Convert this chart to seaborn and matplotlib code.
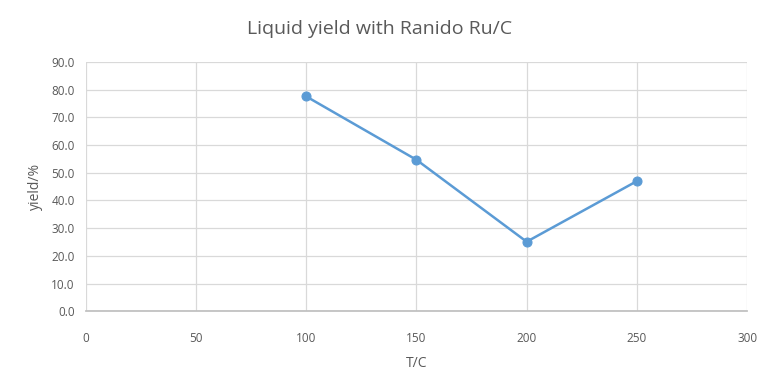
import matplotlib
matplotlib.use("Agg")
import matplotlib.pyplot as plt
import pandas as pd
import seaborn as sns
from matplotlib.ticker import FormatStrFormatter, MultipleLocator

temperature = [100, 150, 200, 250]
yield_pct = [77.6, 54.7, 25.1, 47.0]

sns.set_theme(style="whitegrid")
plt.rcParams["font.family"] = ["Open Sans", "DejaVu Sans"]

df = pd.DataFrame({"T": temperature, "yield": yield_pct})

fig, ax = plt.subplots(figsize=(7.6, 3.7), dpi=100)
fig.subplots_adjust(left=0.113, right=0.983, top=0.832, bottom=0.159)

sns.lineplot(df, x="T", y="yield", marker="o", color="#5B9BD5", linewidth=1.8,
             markersize=6.5, markeredgecolor="#5B9BD5", ax=ax)

ax.set_xlim(0, 300)
ax.set_ylim(0, 90)
ax.xaxis.set_major_locator(MultipleLocator(50))
ax.yaxis.set_major_locator(MultipleLocator(10))
ax.yaxis.set_major_formatter(FormatStrFormatter("%.1f"))
ax.grid(True, color="#D9D9D9", linewidth=0.9)
for side in ["top", "right", "left"]:
    ax.spines[side].set_visible(False)
ax.spines["bottom"].set_color("#BFBFBF")
ax.tick_params(axis="both", colors="#595959", labelsize=8.5, length=0)
ax.tick_params(axis="x", pad=15)
ax.tick_params(axis="y", pad=8)
ax.set_xlabel("T/C", color="#595959", fontsize=10, labelpad=8)
ax.set_ylabel("yield/%", color="#595959", fontsize=10, labelpad=6)
fig.suptitle("Liquid yield with Ranido Ru/C", color="#595959", fontsize=14, y=0.945)

fig.savefig("out.png", dpi=100)
